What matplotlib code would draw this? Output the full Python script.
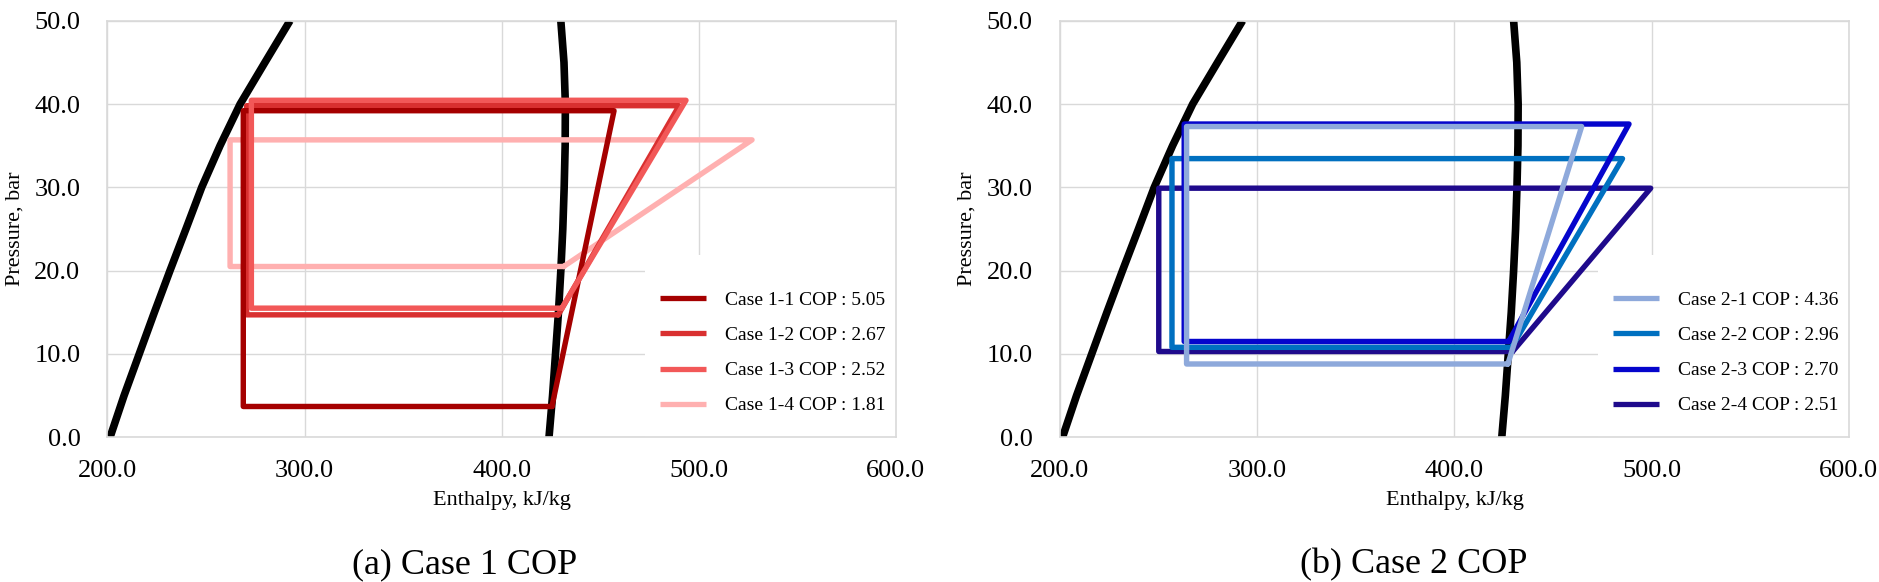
import numpy as np
import matplotlib
matplotlib.use("Agg")
import matplotlib.pyplot as plt
from matplotlib.patches import Rectangle
from matplotlib.ticker import FormatStrFormatter

plt.rcParams['font.family'] = ['Liberation Serif', 'DejaVu Serif']

# saturation dome (same refrigerant on both panels)
h_liq = [201.3, 208.4, 216.1, 223.8, 231.7, 239.8, 247.8, 257.1, 267.3, 279.9, 292.6]
p_liq = [0, 5, 10, 15, 20, 25, 30, 35, 40, 45, 50]
h_vap = [424.0, 425.8, 427.3, 428.8, 430.0, 431.0, 431.7, 432.2, 432.3, 431.6, 430.0]
p_vap = [0, 5, 10, 15, 20, 25, 30, 35, 40, 45, 50]

# cycles: evap outlet -> compressor outlet -> condenser outlet -> expansion -> back
case1_labels = ["Case 1-1 COP : 5.05", "Case 1-2 COP : 2.67",
                "Case 1-3 COP : 2.52", "Case 1-4 COP : 1.81"]
case1_h = [[425.5, 457.0, 268.9, 268.9, 425.5],
           [428.7, 490.0, 270.6, 270.6, 428.7],
           [430.5, 493.5, 273.0, 273.0, 430.5],
           [431.4, 527.0, 262.2, 262.2, 431.4]]
case1_p = [[3.7, 39.2, 39.2, 3.7, 3.7],
           [14.7, 39.8, 39.8, 14.7, 14.7],
           [15.5, 40.45, 40.45, 15.5, 15.5],
           [20.5, 35.7, 35.7, 20.5, 20.5]]
case1_colors = ["#A50000", "#D93030", "#F25858", "#FFB0B0"]
case1_z = [5, 4, 6, 3]

case2_labels = ["Case 2-1 COP : 4.36", "Case 2-2 COP : 2.96",
                "Case 2-3 COP : 2.70", "Case 2-4 COP : 2.51"]
case2_h = [[427.1, 464.5, 264.2, 264.2, 427.1],
           [429.0, 485.2, 256.8, 256.8, 429.0],
           [427.5, 488.5, 263.0, 263.0, 427.5],
           [429.5, 499.5, 250.1, 250.1, 429.5]]
case2_p = [[8.8, 37.3, 37.3, 8.8, 8.8],
           [10.8, 33.45, 33.45, 10.8, 10.8],
           [11.5, 37.6, 37.6, 11.5, 11.5],
           [10.3, 29.9, 29.9, 10.3, 10.3]]
case2_colors = ["#8EA9DB", "#0070C0", "#0505CC", "#1F0A8C"]
case2_z = [6, 4, 5, 3]

captions = ["(a) Case 1 COP", "(b) Case 2 COP"]

GRID = "#D9D9D9"


def draw_panel(ax, hs, ps, colors, labels, zs):
    ax.plot(h_liq, p_liq, color="black", lw=5.5, solid_capstyle="butt",
            solid_joinstyle="round", zorder=2)
    ax.plot(h_vap, p_vap, color="black", lw=5.5, solid_capstyle="butt",
            solid_joinstyle="round", zorder=2)
    handles = []
    for h, p, c, lab, z in zip(hs, ps, colors, labels, zs):
        ln, = ax.plot(h, p, color=c, lw=3.9, label=lab, zorder=z,
                      solid_joinstyle="round", solid_capstyle="round")
        handles.append(ln)

    ax.set_xlim(200, 600)
    ax.set_ylim(0, 50)
    ax.set_xticks(np.arange(200, 601, 100))
    ax.set_yticks(np.arange(0, 51, 10))
    ax.xaxis.set_major_formatter(FormatStrFormatter("%.1f"))
    ax.yaxis.set_major_formatter(FormatStrFormatter("%.1f"))
    ax.set_axisbelow(True)
    ax.grid(True, color=GRID, lw=1.0)
    for s in ax.spines.values():
        s.set_color(GRID)
        s.set_linewidth(1.2)
    ax.tick_params(axis="x", length=0, pad=16, labelsize=19)
    ax.tick_params(axis="y", length=0, pad=19.5, labelsize=19)
    ax.set_xlabel("Enthalpy, kJ/kg", fontsize=16, labelpad=7)
    ax.set_ylabel("Pressure, bar", fontsize=16, labelpad=7)

    # white legend area like the spreadsheet chart
    ax.add_patch(Rectangle((0.682, 0.0), 0.318, 0.4376, transform=ax.transAxes,
                           facecolor="white", edgecolor="none", zorder=0.8))
    leg = ax.legend(handles=handles, loc="upper left", bbox_to_anchor=(0.7007, 0.35),
                    frameon=False, fontsize=14, borderpad=0, borderaxespad=0,
                    handlelength=2.37, handletextpad=0.98, labelspacing=0.9)
    for lh in leg.get_lines():
        lh.set_linewidth(3.8)
        lh.set_solid_capstyle("butt")


fig = plt.figure(figsize=(18.79, 5.82), dpi=100)
ax1 = fig.add_axes([0.0572, 0.2486, 0.4196, 0.7158])
ax2 = fig.add_axes([0.5641, 0.2486, 0.4199, 0.7158])

draw_panel(ax1, case1_h, case1_p, case1_colors, case1_labels, case1_z)
draw_panel(ax2, case2_h, case2_p, case2_colors, case2_labels, case2_z)

fig.text(465 / 1879, 0.0155, captions[0], ha="center", va="baseline", fontsize=26)
fig.text(1414 / 1879, 0.0155, captions[1], ha="center", va="baseline", fontsize=26)

fig.savefig("out.png", dpi=100, facecolor="white")
